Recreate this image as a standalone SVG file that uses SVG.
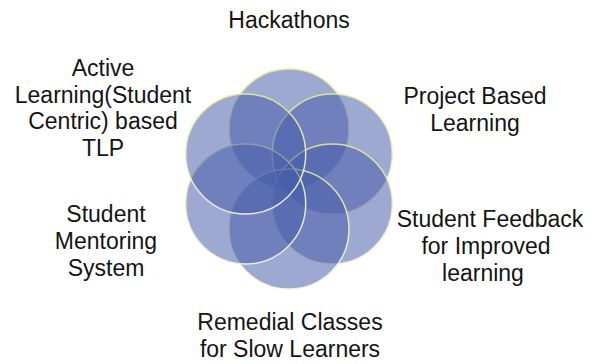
<svg xmlns="http://www.w3.org/2000/svg" width="601" height="364" viewBox="0 0 601 364">
<defs>
<linearGradient id="edge" x1="0" y1="0" x2="0" y2="1">
<stop offset="0" stop-color="#e2ec8e"/>
<stop offset="0.5" stop-color="#eef2c0"/>
<stop offset="1" stop-color="#f2f2ee"/>
</linearGradient>
</defs>
<style>
.lbl{font-family:"Liberation Sans",Arial,sans-serif;font-size:23px;fill:#141414;text-anchor:middle}
.c{fill:rgb(71,93,170);fill-opacity:0.53;stroke:url(#edge);stroke-width:1.5;stroke-opacity:0.9}
</style>
<rect width="601" height="364" fill="#ffffff"/>
<g id="flower">
<circle class="c" cx="289" cy="129" r="60"/>
<circle class="c" cx="332.3" cy="154" r="60"/>
<circle class="c" cx="332.3" cy="204" r="60"/>
<circle class="c" cx="289" cy="229" r="60"/>
<circle class="c" cx="245.7" cy="204" r="60"/>
<circle class="c" cx="245.7" cy="154" r="60"/>
</g>
<g id="hackathons"><text class="lbl" x="289" y="28">Hackathons</text></g>
<g id="active"><text class="lbl" x="103" y="76">Active</text><text class="lbl" x="103" y="102.5">Learning(Student</text><text class="lbl" x="103" y="129">Centric) based</text><text class="lbl" x="103" y="155.5">TLP</text></g>
<g id="project"><text class="lbl" x="475" y="104">Project Based</text><text class="lbl" x="475" y="131">Learning</text></g>
<g id="mentoring"><text class="lbl" x="106" y="222">Student</text><text class="lbl" x="106" y="249">Mentoring</text><text class="lbl" x="106" y="276">System</text></g>
<g id="feedback"><text class="lbl" x="490" y="227">Student Feedback</text><text class="lbl" x="486" y="254">for Improved</text><text class="lbl" x="483" y="281">learning</text></g>
<g id="remedial"><text class="lbl" x="290" y="330">Remedial Classes</text><text class="lbl" x="290" y="357">for Slow Learners</text></g>
</svg>
